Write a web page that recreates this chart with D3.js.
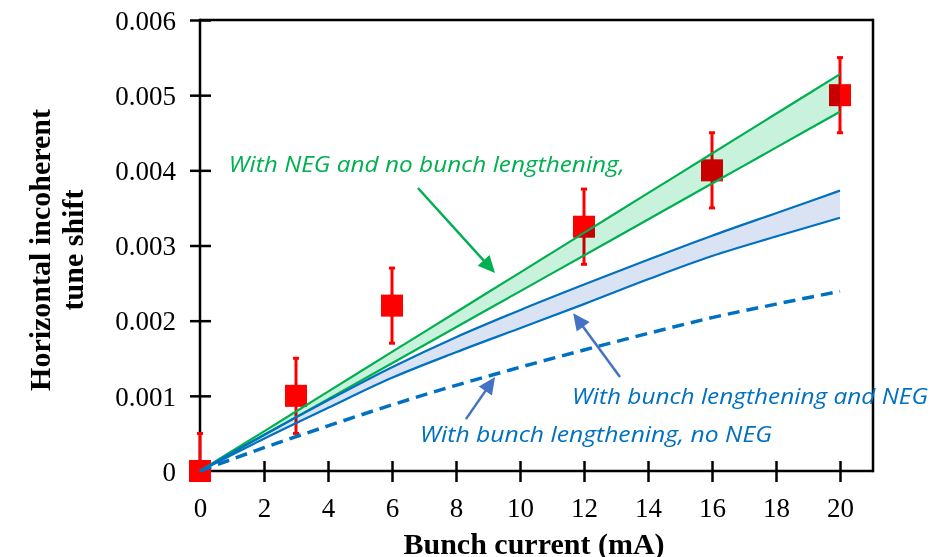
<!DOCTYPE html>
<html><head><meta charset="utf-8">
<script src="https://cdn.jsdelivr.net/npm/d3@7"></script>
<style>html,body{margin:0;padding:0;background:#fff;}svg{display:block;}</style>
</head><body>
<svg id="chart" width="950" height="557"></svg>
<script>
// ---- data ----
const xTicks = [0,2,4,6,8,10,12,14,16,18,20];
const yTicks = [0,0.001,0.002,0.003,0.004,0.005,0.006];
const yTickLabels = ["0","0.001","0.002","0.003","0.004","0.005","0.006"];
const measX = [0,3,6,12,16,20];
const measY = [0,0.001,0.0022,0.00325,0.004,0.005];
const measErr = [0.0005,0.0005,0.0005,0.0005,0.0005,0.0005];
const curveX = [0,2,4,6,8,10,12,14,16,18,20];
const negUpper = [0,0.000528,0.001056,0.001584,0.002112,0.00264,0.003168,0.003696,0.004224,0.004752,0.00528];
const negLower = [0,0.000478,0.000956,0.001434,0.001912,0.00239,0.002868,0.003346,0.003824,0.004302,0.00478];
const blUpper = [0,0.00048,0.00094,0.00138,0.00178,0.00214,0.00248,0.00281,0.00313,0.00343,0.00373];
const blLower = [0,0.00043,0.00084,0.00124,0.00158,0.00190,0.00222,0.00255,0.00286,0.00312,0.00337];
const blNoNeg = [0,0.00031,0.00060,0.00088,0.00114,0.00138,0.00161,0.00183,0.00204,0.00222,0.00239];
const labels = [
  {text:"With NEG and no bunch lengthening,", x:0.9, y:0.00398, color:"#00b050", w:396},
  {text:"With bunch lengthening and NEG", x:11.625, y:0.00089, color:"#0070c0", w:356},
  {text:"With bunch lengthening, no NEG", x:6.875, y:0.000386, color:"#0070c0", w:352}
];
const arrows = [
  {x1:6.81, y1:0.003765, x2:9.22, y2:0.002634, color:"#00b050"},
  {x1:13.125, y1:0.00125, x2:11.66, y2:0.0021, color:"#4472c4"},
  {x1:8.31, y1:0.00069, x2:9.22, y2:0.00125, color:"#4472c4"}
];

// ---- layout ----
const svg = d3.select("#chart");
const x = d3.scaleLinear().domain([0,20]).range([200,840]);
const y = d3.scaleLinear().domain([0,0.006]).range([471,20]);
const frameRight = 873;
const serif = "'Liberation Serif','Times New Roman',serif";

// axes frame
const axG = svg.append("g");
axG.append("line").attr("x1",x(0)).attr("x2",frameRight).attr("y1",y(0.006)).attr("y2",y(0.006)).attr("stroke","#000").attr("stroke-width",2.5);
axG.append("line").attr("x1",frameRight).attr("x2",frameRight).attr("y1",y(0.006)-1.2).attr("y2",y(0)+1.2).attr("stroke","#000").attr("stroke-width",2.5);

const xAxis = d3.axisBottom(x).tickValues(xTicks).tickSize(0).tickFormat(d3.format("d"));
const gx = svg.append("g").attr("transform",`translate(0,${y(0)})`).call(xAxis);
gx.select(".domain").remove();
gx.append("line").attr("x1",x(0)).attr("x2",frameRight).attr("stroke","#000").attr("stroke-width",2.5);
gx.selectAll(".tick").append("line").attr("y1",-10).attr("y2",11).attr("stroke","#000").attr("stroke-width",2.5);
gx.selectAll(".tick text").attr("y",27).attr("dy","0.71em").attr("font-family",serif).attr("font-size",27).attr("fill","#000");

const yAxis = d3.axisLeft(y).tickValues(yTicks).tickSize(0).tickFormat((d,i)=>yTickLabels[i]);
const gy = svg.append("g").attr("transform",`translate(${x(0)},0)`).call(yAxis);
gy.select(".domain").remove();
gy.append("line").attr("y1",y(0.006)-1.2).attr("y2",y(0)+1.2).attr("stroke","#000").attr("stroke-width",2.5);
gy.selectAll(".tick").append("line").attr("x1",-10).attr("x2",11).attr("stroke","#000").attr("stroke-width",2.5);
gy.selectAll(".tick text").attr("x",-24).attr("dy","0.34em").attr("font-family",serif).attr("font-size",27).attr("fill","#000");

// axis titles
svg.append("text").attr("x",534).attr("y",554).attr("text-anchor","middle")
  .attr("font-family",serif).attr("font-weight","bold").attr("font-size",30).attr("fill","#000")
  .text("Bunch current (mA)");
const yt = svg.append("text").attr("transform","translate(50,250) rotate(-90)").attr("text-anchor","middle")
  .attr("font-family",serif).attr("font-weight","bold").attr("font-size",30).attr("fill","#000");
yt.append("tspan").attr("x",0).attr("y",0).text("Horizontal incoherent");
yt.append("tspan").attr("x",0).attr("y",33).text("tune shift");

// measurements
const meas = measX.map((d,i)=>({x:d,y:measY[i],e:measErr[i]}));
const mG = svg.append("g");
meas.forEach(d=>{
  const lo = Math.max(0,d.y-d.e), hi = d.y+d.e;
  mG.append("line").attr("x1",x(d.x)).attr("x2",x(d.x)).attr("y1",y(lo)).attr("y2",y(hi)).attr("stroke","#ff0000").attr("stroke-width",3);
  mG.append("line").attr("x1",x(d.x)-3).attr("x2",x(d.x)+3).attr("y1",y(hi)).attr("y2",y(hi)).attr("stroke","#ff0000").attr("stroke-width",3);
  if (d.y-d.e > 0) mG.append("line").attr("x1",x(d.x)-3).attr("x2",x(d.x)+3).attr("y1",y(lo)).attr("y2",y(lo)).attr("stroke","#ff0000").attr("stroke-width",3);
  mG.append("rect").attr("x",x(d.x)-11).attr("y",y(d.y)-11).attr("width",22).attr("height",22).attr("fill","#ff0000");
});

// bands
const pts = (a)=>curveX.map((c,i)=>[c,a[i]]);
const area = d3.area().x((d,i)=>x(curveX[i])).y0(d=>y(d[0])).y1(d=>y(d[1])).curve(d3.curveMonotoneX);
const line = d3.line().x(d=>x(d[0])).y(d=>y(d[1])).curve(d3.curveMonotoneX);
svg.append("path").datum(curveX.map((c,i)=>[negLower[i],negUpper[i]])).attr("d",area)
  .attr("fill","#c9f2dc").style("mix-blend-mode","multiply");
svg.append("path").datum(curveX.map((c,i)=>[blLower[i],blUpper[i]])).attr("d",area)
  .attr("fill","#dae3f3").style("mix-blend-mode","multiply");

svg.append("path").datum(pts(negUpper)).attr("d",line).attr("fill","none").attr("stroke","#00b050").attr("stroke-width",2.2);
svg.append("path").datum(pts(negLower)).attr("d",line).attr("fill","none").attr("stroke","#00b050").attr("stroke-width",2.2);
svg.append("path").datum(pts(blUpper)).attr("d",line).attr("fill","none").attr("stroke","#0070c0").attr("stroke-width",2.2);
svg.append("path").datum(pts(blLower)).attr("d",line).attr("fill","none").attr("stroke","#0070c0").attr("stroke-width",2.2);
svg.append("path").datum(pts(blNoNeg)).attr("d",line).attr("fill","none").attr("stroke","#0070c0").attr("stroke-width",3.5).attr("stroke-dasharray","12,7");

// arrows
arrows.forEach(a=>{
  const X1=x(a.x1),Y1=y(a.y1),X2=x(a.x2),Y2=y(a.y2);
  const dx=X2-X1, dy=Y2-Y1, L=Math.hypot(dx,dy), ux=dx/L, uy=dy/L;
  const hl=17, hw=8;
  const bx=X2-ux*hl, by=Y2-uy*hl;
  svg.append("line").attr("x1",X1).attr("y1",Y1).attr("x2",bx+ux*2).attr("y2",by+uy*2).attr("stroke",a.color).attr("stroke-width",2.5);
  svg.append("polygon").attr("points",[[X2,Y2],[bx-uy*hw,by+ux*hw],[bx+uy*hw,by-ux*hw]].map(p=>p.join(",")).join(" ")).attr("fill",a.color);
});

// labels
labels.forEach(l=>{
  svg.append("text").attr("x",x(l.x)).attr("y",y(l.y)).attr("font-family","'Open Sans',sans-serif")
    .attr("font-style","italic").attr("font-size",21).attr("fill",l.color)
    .attr("textLength",l.w).attr("lengthAdjust","spacingAndGlyphs").text(l.text);
});
</script>
</body></html>
